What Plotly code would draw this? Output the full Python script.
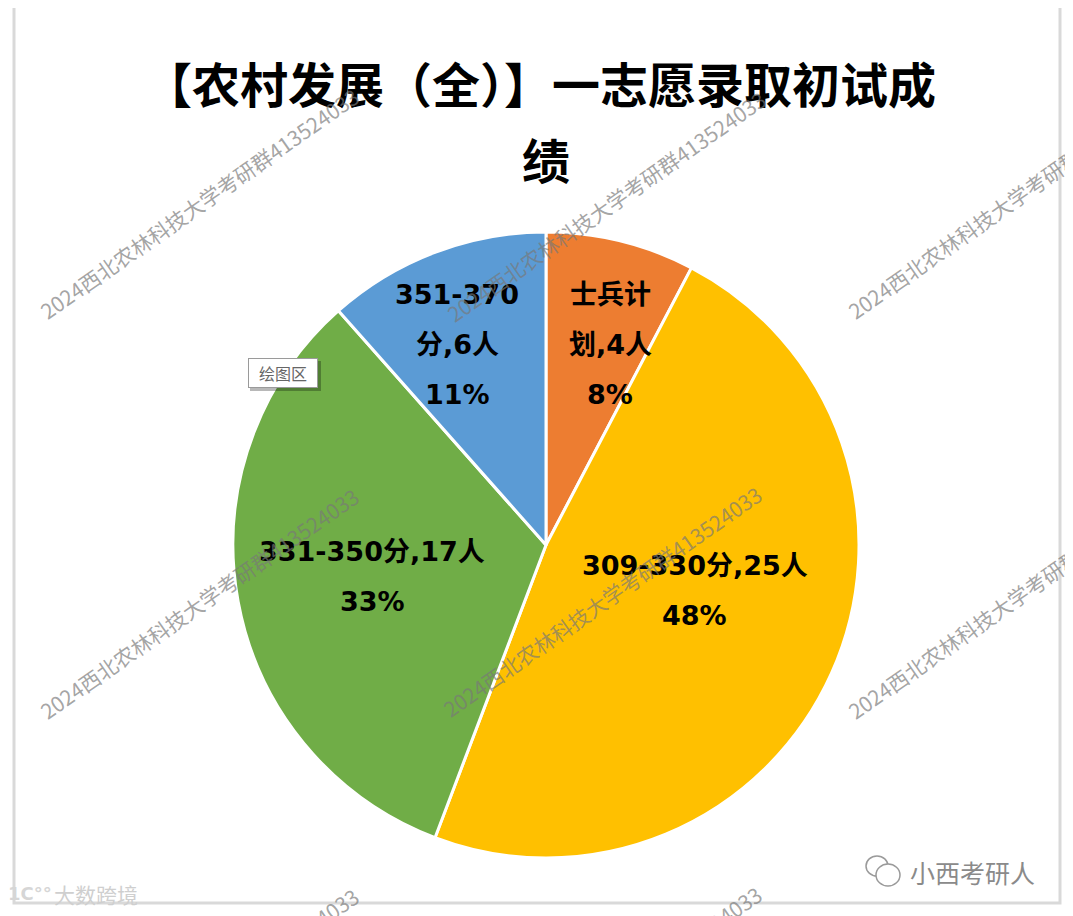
import math
import plotly.graph_objects as go

# ---------------- data ----------------
categories = ["士兵计划", "309-330分", "331-350分", "351-370分"]
counts = [4, 25, 17, 6]
percent_labels = ["8%", "48%", "33%", "11%"]
colors = ["#ED7D31", "#FFC000", "#70AD47", "#5B9BD5"]

title_line1 = "【农村发展（全）】一志愿录取初试成"
title_line2 = "绩"
watermark_text = "2024西北农林科技大学考研群413524033"

# label wrapping (how the original breaks each label)
label_lines = [
    ["士兵计", "划,4人"],
    ["309-330分,25人"],
    ["331-350分,17人"],
    ["351-370", "分,6人"],
]
# label placement style: radial fraction and angle tweak (deg)
label_rf = [0.671, 0.497, 0.565, 0.702]
label_dtheta = [3.9, -7.4, 0.0, -3.1]

W, H = 1073, 916
OFF = 8  # page body margin of the html page
CX, CY, R = 546, 545, 313


def px(x):
    return (x - OFF) / W


def py(y):
    return 1 - (y - OFF) / H


fig = go.Figure()
fig.add_trace(go.Pie(
    labels=categories,
    values=counts,
    sort=False,
    direction="clockwise",
    rotation=0,
    marker=dict(colors=colors, line=dict(color="white", width=3)),
    textinfo="none",
    hoverinfo="skip",
    showlegend=False,
    domain=dict(x=[px(CX - R), px(CX + R)], y=[py(CY + R), py(CY - R)]),
))

annotations = []
shapes = []

# ---- frame ----
shapes.append(dict(type="rect", xref="paper", yref="paper",
                   x0=px(14), x1=px(1060), y0=py(903), y1=py(6),
                   line=dict(color="#d9d9d9", width=3), fillcolor="rgba(0,0,0,0)", layer="below"))

# ---- title ----
title_font = dict(family="Noto Sans CJK SC", size=48, color="black")
annotations.append(dict(xref="paper", yref="paper", x=px(540), y=py(82), text="<b>" + title_line1 + "</b>",
                        showarrow=False, font=title_font, xanchor="center", yanchor="middle"))
annotations.append(dict(xref="paper", yref="paper", x=px(546), y=py(158), text="<b>" + title_line2 + "</b>",
                        showarrow=False, font=title_font, xanchor="center", yanchor="middle"))

# ---- slice labels ----
total = sum(counts)
cum = 0
label_font = dict(family="DejaVu Sans, Noto Sans CJK SC", size=27, color="black")
LINE_SP = 50
for i, c in enumerate(counts):
    mid = (cum + c / 2) / total * 360 + label_dtheta[i]
    cum += c
    r = label_rf[i] * R
    lx = CX + r * math.sin(math.radians(mid))
    ly = CY - r * math.cos(math.radians(mid))
    lines = label_lines[i] + [percent_labels[i]]
    n = len(lines)
    for k, t in enumerate(lines):
        yy = ly + (k - (n - 1) / 2) * LINE_SP
        annotations.append(dict(xref="paper", yref="paper", x=px(lx), y=py(yy),
                                text="<b>" + t + "</b>", showarrow=False, font=label_font,
                                xanchor="center", yanchor="middle"))

# ---- "绘图区" tooltip ----
shapes.append(dict(type="rect", xref="paper", yref="paper",
                   x0=px(250), x1=px(321), y0=py(391), y1=py(361),
                   line=dict(width=0), fillcolor="rgba(0,0,0,0.28)", layer="above"))
annotations.append(dict(xref="paper", yref="paper", x=px(282.5), y=py(373), text="绘图区",
                        showarrow=False, font=dict(family="Noto Sans CJK SC", size=16, color="#666666"),
                        bgcolor="white", bordercolor="#9a9a9a", borderwidth=1, borderpad=3,
                        width=62, height=22,
                        xanchor="center", yanchor="middle"))

# ---- watermarks ----
ang = 35.0
wm_len = 390
starts = [(40, 315), (447, 318), (848, 315),
          (40, 715), (443, 713), (848, 715),
          (40, 1115), (443, 1113), (848, 1115)]
for sx, sy in starts:
    cx = sx + wm_len / 2 * math.cos(math.radians(ang))
    cy = sy - wm_len / 2 * math.sin(math.radians(ang))
    annotations.append(dict(xref="paper", yref="paper", x=px(cx), y=py(cy), text=watermark_text,
                            showarrow=False, textangle=-ang,
                            font=dict(family="Noto Sans CJK SC", size=21, color="rgba(120,120,120,0.68)"),
                            xanchor="center", yanchor="middle"))

# ---- bottom-right logo ----
for (x0, y0, x1, y1) in [(866, 856, 888, 876), (876, 864, 900, 886)]:
    shapes.append(dict(type="circle", xref="paper", yref="paper",
                       x0=px(x0), x1=px(x1), y0=py(y1), y1=py(y0),
                       line=dict(color="#9a9a9a", width=1.5), fillcolor="white", layer="above"))
annotations.append(dict(xref="paper", yref="paper", x=px(972), y=py(872), text="小西考研人",
                        showarrow=False, font=dict(family="Noto Sans CJK SC", size=25, color="#8a8a8a"),
                        xanchor="center", yanchor="middle"))

# ---- bottom-left faint logo ----
annotations.append(dict(xref="paper", yref="paper", x=px(30), y=py(893), text="<b>1C°°</b>",
                        showarrow=False, font=dict(family="DejaVu Sans", size=18, color="#d6d6d6"),
                        xanchor="center", yanchor="middle"))
annotations.append(dict(xref="paper", yref="paper", x=px(96), y=py(894), text="大数跨境",
                        showarrow=False, font=dict(family="Noto Sans CJK SC", size=21, color="#cfcfcf"),
                        xanchor="center", yanchor="middle"))

fig.update_layout(
    width=W, height=H,
    margin=dict(l=0, r=0, t=0, b=0),
    paper_bgcolor="white",
    plot_bgcolor="white",
    annotations=annotations,
    shapes=shapes,
)

fig.write_html("out.html")
